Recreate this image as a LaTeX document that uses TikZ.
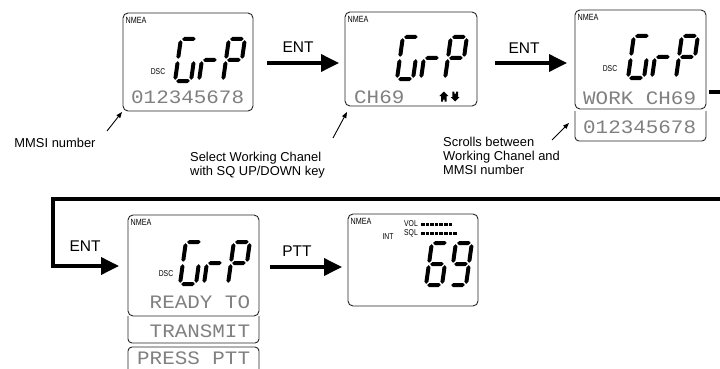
\documentclass[tikz,border=0pt]{standalone}
\usepackage{fontspec}
\setmainfont{Liberation Sans}
\newfontfamily\narrowfont[FakeStretch=0.8]{Liberation Sans}
\newfontfamily\dotfont[FakeStretch=1.1]{Liberation Mono}
\usetikzlibrary{arrows.meta}
\definecolor{lcdtext}{gray}{0.5}
\definecolor{framecol}{gray}{0.15}
\tikzset{
  screen/.style 2 args={draw=framecol, line width=0.9pt, rounded corners=5pt, anchor=north west,
    minimum width=#1pt, minimum height=#2pt, inner sep=0pt, outer sep=0pt},
  subbox/.style={draw=framecol, line width=0.9pt, rounded corners=4pt},
  nmea/.style={font=\narrowfont\fontsize{9}{10}\selectfont, inner sep=0pt, anchor=west},
  small/.style={font=\narrowfont\fontsize{8.5}{9}\selectfont, inner sep=0pt},
  dot/.style={font=\dotfont\fontsize{19}{20}\selectfont, text=lcdtext, inner sep=0pt, anchor=west},
  lbl/.style={font=\fontsize{12.9}{13.8}\selectfont, inner sep=0pt},
  key/.style={font=\fontsize{15.5}{18}\selectfont, inner sep=0pt},
  flow/.style={line width=3.6pt, -{Triangle[length=18pt,width=17pt]}},
  flowline/.style={line width=3.6pt, line join=miter, -{Triangle[length=18pt,width=17pt]}},
  note/.style={line width=0.9pt, -{Triangle[length=6pt,width=4.5pt]}},
  segfill/.style={fill=black},
}
% seven segment pieces (local units: width 16, height 42, origin bottom-left, y down negative)
\newcommand\hseg[3]{\fill[segfill] (#1,#3) -- (#1+2,#3-2) -- (#2-2,#3-2) -- (#2,#3) -- (#2-2,#3+2) -- (#1+2,#3+2) -- cycle;}
\newcommand\vseg[3]{\fill[segfill] (#1,#2) -- (#1+2,#2+2) -- (#1+2,#3-2) -- (#1,#3) -- (#1-2,#3-2) -- (#1-2,#2+2) -- cycle;}
\newcommand\sgA{\hseg{1.2}{14.8}{-42}}
\newcommand\sgD{\hseg{1.2}{14.8}{0}}
\newcommand\sgG{\hseg{1.2}{14.8}{-21}}
\newcommand\sgF{\vseg{0}{-40.8}{-22.2}}
\newcommand\sgE{\vseg{0}{-19.8}{-1.2}}
\newcommand\sgB{\vseg{16}{-40.8}{-22.2}}
\newcommand\sgC{\vseg{16}{-19.8}{-1.2}}
\newcommand\lcdchar[3]{\begin{scope}[shift={(#1,#2)}, xslant=0.14]#3\end{scope}}
\newcommand\lcdGrP[2]{%
  \lcdchar{#1}{#2}{\sgA\sgF\sgE\sgD\sgC}%
  \lcdchar{#1+24}{#2}{\sgE\sgG}%
  \lcdchar{#1+48}{#2}{\sgA\sgB\sgF\sgG\sgE}}
\begin{document}
\begin{tikzpicture}[x=1pt,y=-1pt]
\useasboundingbox (0,0) rectangle (720,369);
\clip (0,0) rectangle (720,369);

% ---------- screens ----------
\node[screen={130}{98}] (s1) at (123,13) {};
\node[screen={132}{94}] (s2) at (345,12) {};
\node[screen={131}{99}] (s3) at (575,10) {};
\node[screen={131}{101}] (s4) at (128,215) {};
\node[screen={130}{92}] (s5) at (348,214) {};

% sub boxes
\draw[subbox] (575,111) -- (575,141) -- (706,141) -- (706,111);
\draw[subbox] (128,316) -- (128,343) -- (259,343) -- (259,316);
\draw[subbox] (128,380) -- (128,347) -- (259,347) -- (259,380);

% screen 1
\node[nmea] (s1n) at (125.5,20.5) {NMEA};
\node[small] (s1d) at (158,72) {DSC};
\lcdGrP{175}{81}
\node[dot] (s1t) at (131,97) {012345678};

% screen 2
\node[nmea] (s2n) at (347.5,19.5) {NMEA};
\lcdGrP{397}{79}
\node[dot] (s2t) at (354,97) {CH69};
\fill (443.8,91.5) -- (448.3,96) -- (446.6,96) -- (446.6,101.5) -- (444.6,101.5) -- (444.6,99.5) -- (443,99.5) -- (443,101.5) -- (441,101.5) -- (441,96) -- (439.3,96) -- cycle;
\fill (455.2,101.5) -- (459.7,97) -- (458,97) -- (458,91.5) -- (456,91.5) -- (456,93.5) -- (454.4,93.5) -- (454.4,91.5) -- (452.4,91.5) -- (452.4,97) -- (450.7,97) -- cycle;

% screen 3
\node[nmea] (s3n) at (577.5,17.5) {NMEA};
\node[small] (s3d) at (610,69) {DSC};
\lcdGrP{628}{78}
\node[dot] (s3t) at (583,98) {WORK CH69};
\node[dot] (s3u) at (583,127) {012345678};

% screen 4
\node[nmea] (s4n) at (130.5,222.5) {NMEA};
\node[small] (s4d) at (166,274) {DSC};
\lcdGrP{180}{284}
\node[dot] (s4t) at (137,302) {\phantom{R}READY TO};
\node[dot] (s4u) at (137,331) {\phantom{R}TRANSMIT};
\node[dot] (s4v) at (137,358) {PRESS PTT};

% screen 5
\node[nmea] (s5n) at (350.5,221) {NMEA};
\node[small] (s5vol) at (411,224) {VOL};
\node[small] (s5sql) at (411,233) {SQL};
\node[small] (s5int) at (388,237) {INT};
\foreach \i in {0,...,6} \fill (421+4.6*\i,222.5) rectangle ++(3.6,3.2);
\foreach \i in {0,...,7} \fill (421+4.6*\i,231.5) rectangle ++(3.6,3.2);
\lcdchar{426}{285}{\sgA\sgF\sgG\sgE\sgD\sgC}
\lcdchar{450}{285}{\sgA\sgB\sgF\sgG\sgC\sgD}

% ---------- key labels ----------
\node[key] (ent1) at (298,47) {ENT};
\node[key] (ent2) at (524,48) {ENT};
\node[key] (ent3) at (85,246) {ENT};
\node[key] (ptt) at (297,251) {PTT};

% ---------- connectors ----------
\coordinate (row1) at (0,63);
\coordinate (row2) at (0,92);
\coordinate (row4) at (0,266);
\coordinate (row5) at (0,267);
\draw[flow] ([xshift=14pt]s1.east |- row1) -- ([xshift=-6pt]s2.west |- row1);
\draw[flow] ([xshift=18pt]s2.east |- row1) -- ([xshift=-8pt]s3.west |- row1);
\draw[flowline] ([xshift=3pt]s3.east |- row2) -- (735,92) -- (735,199) -- (53,199) -- (53,266) -- ([xshift=-9pt]s4.west |- row4);
\draw[flow] ([xshift=11pt]s4.east |- row5) -- ([xshift=-6pt]s5.west |- row5);

% ---------- annotations ----------
\node[lbl] (mmsi) at (55,143) {MMSI number};
\node[lbl, anchor=north west, align=left] (sel) at (190,152) {Select Working Chanel\\with SQ UP/DOWN key};
\node[lbl, anchor=north west, align=left] (scr) at (443,137) {Scrolls between\\Working Chanel and\\MMSI number};
\coordinate (mmsitail) at (107,131);
\coordinate (seltail) at (333,138);
\coordinate (scrtail) at (552,140);
\draw[note] (mmsitail) -- ([shift={(-1pt,-1pt)}]s1.south west);
\draw[note] (seltail) -- ([shift={(2pt,-6pt)}]s2.south west);
\draw[note] (scrtail) -- ([shift={(-6pt,-14pt)}]s3.south west);
\end{tikzpicture}
\end{document}
